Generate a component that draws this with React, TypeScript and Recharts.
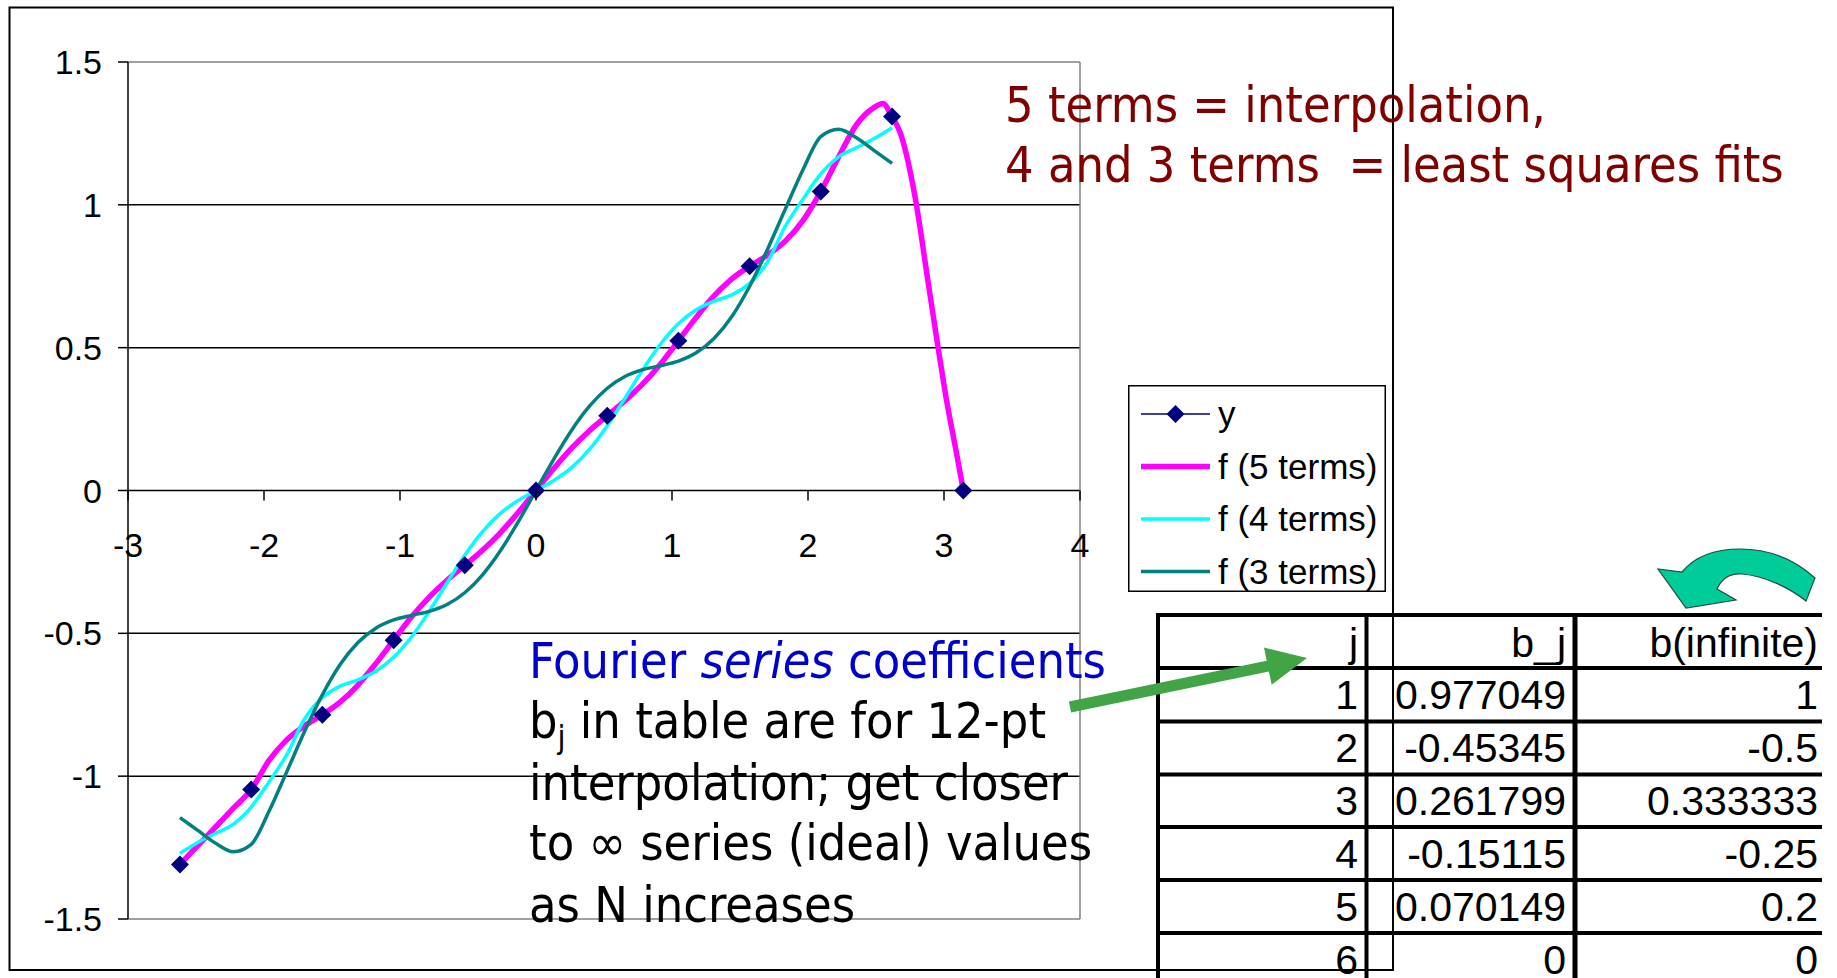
import React from 'react';
import { LineChart, Line, XAxis, YAxis, ReferenceLine, Legend } from 'recharts';

// x grid shared by the 4- and 3-term fits
const fitX = [
  -2.618, -2.487, -2.356, -2.225, -2.094, -1.963, -1.833, -1.702, -1.571, -1.44, -1.309,
  -1.178, -1.047, -0.916, -0.785, -0.654, -0.524, -0.393, -0.262, -0.131, 0, 0.131, 0.262,
  0.393, 0.524, 0.654, 0.785, 0.916, 1.047, 1.178, 1.309, 1.44, 1.571, 1.702, 1.833, 1.963,
  2.094, 2.225, 2.356, 2.487, 2.618,
];
const f4Y = [
  -1.27, -1.232, -1.2, -1.168, -1.108, -1.02, -0.925, -0.8, -0.725, -0.685, -0.663, -0.633,
  -0.584, -0.513, -0.423, -0.323, -0.227, -0.144, -0.08, -0.035, 0, 0.035, 0.08, 0.144, 0.227,
  0.323, 0.423, 0.513, 0.584, 0.633, 0.663, 0.685, 0.725, 0.8, 0.925, 1.02, 1.108, 1.168, 1.2,
  1.232, 1.27,
];
const f3Y = [
  -1.145, -1.19, -1.235, -1.265, -1.239, -1.123, -0.985, -0.844, -0.715, -0.609, -0.532,
  -0.482, -0.453, -0.437, -0.423, -0.399, -0.358, -0.295, -0.211, -0.11, 0, 0.11, 0.211, 0.295,
  0.358, 0.399, 0.423, 0.437, 0.453, 0.482, 0.532, 0.609, 0.715, 0.844, 0.985, 1.123, 1.239,
  1.265, 1.235, 1.19, 1.145,
];

// 5-term interpolant runs on to pi
const f5X = [
  -2.618, -2.487, -2.356, -2.225, -2.094, -1.963, -1.833, -1.702, -1.571, -1.44, -1.309,
  -1.178, -1.047, -0.916, -0.785, -0.654, -0.524, -0.393, -0.262, -0.131, 0, 0.131, 0.262,
  0.393, 0.524, 0.654, 0.785, 0.916, 1.047, 1.178, 1.309, 1.44, 1.571, 1.702, 1.833, 1.963,
  2.094, 2.225, 2.356, 2.487, 2.55, 2.618, 2.68, 2.79, 2.88, 2.95, 3.01, 3.1, 3.142,
];
const f5Y = [
  -1.309, -1.243, -1.178, -1.112, -1.047, -0.945, -0.873, -0.824, -0.785, -0.741, -0.681,
  -0.606, -0.524, -0.443, -0.373, -0.314, -0.262, -0.209, -0.148, -0.077, 0, 0.077, 0.148,
  0.209, 0.262, 0.314, 0.373, 0.443, 0.524, 0.606, 0.681, 0.741, 0.785, 0.824, 0.873, 0.945,
  1.047, 1.168, 1.28, 1.341, 1.355, 1.309, 1.25, 1.02, 0.74, 0.52, 0.34, 0.11, 0,
];

// the 12 sample points
const sampleX = [-2.618, -2.094, -1.571, -1.047, -0.524, 0, 0.524, 1.047, 1.571, 2.094, 2.618, 3.142];
const sampleY = [-1.309, -1.047, -0.785, -0.524, -0.262, 0, 0.262, 0.524, 0.785, 1.047, 1.309, 0];

const xTicks = [-3, -2, -1, 0, 1, 2, 3, 4];
const yTicks = [-1.5, -1, -0.5, 0, 0.5, 1, 1.5];
const gridValues = [-1, -0.5, 0.5, 1];

const tableHead = ['j', 'b_j', 'b(infinite)'];
const tableJ = ['1', '2', '3', '4', '5', '6'];
const tableBj = ['0.977049', '-0.45345', '0.261799', '-0.15115', '0.070149', '0'];
const tableBinf = ['1', '-0.5', '0.333333', '-0.25', '0.2', '0'];

const samples = sampleX.map((x, i) => ({ x, y: sampleY[i] }));
const f5Data = f5X.map((x, i) => ({ x, y: f5Y[i] }));
const f4Data = fitX.map((x, i) => ({ x, y: f4Y[i] }));
const f3Data = fitX.map((x, i) => ({ x, y: f3Y[i] }));

const ARIAL = "'Liberation Sans', Arial, sans-serif";
const TAHOMA = "'DejaVu Sans Condensed', 'DejaVu Sans', sans-serif";

const LEGEND_ORDER = ['y', 'f (5 terms)', 'f (4 terms)', 'f (3 terms)'];
const SERIES: Record<string, { color: string; width: number }> = {
  y: { color: '#000080', width: 1.5 },
  'f (5 terms)': { color: '#FF00FF', width: 5.5 },
  'f (4 terms)': { color: '#00FFFF', width: 3.5 },
  'f (3 terms)': { color: '#008080', width: 3.5 },
};

// chart layout
const W = 1400;
const H = 978;
const MARGIN = { top: 62, right: 320, bottom: 29, left: 10 };
const Y_AXIS_W = 118;
const X_AXIS_H = 30;
const PLOT_H = H - MARGIN.top - MARGIN.bottom - X_AXIS_H;
const ZERO_Y = MARGIN.top + PLOT_H / 2; // y = 0 sits mid-height of [-1.5, 1.5]

const diamondPath = (cx: number, cy: number, r: number) =>
  `M${cx},${cy - r}L${cx + r},${cy}L${cx},${cy + r}L${cx - r},${cy}Z`;

const Diamond = (props: any) => {
  const { cx, cy, index } = props;
  if (cx == null || cy == null) return <g key={`d-${index}`} />;
  return <path key={`d-${index}`} d={diamondPath(cx, cy, 9)} fill="#000080" />;
};

// x axis crosses at y = 0, so ticks are drawn there
const XTick = (props: any) => {
  const { x, payload } = props;
  return (
    <g>
      <line x1={x} x2={x} y1={ZERO_Y} y2={ZERO_Y + 10} stroke="#000" strokeWidth={1.5} />
      <text x={x} y={ZERO_Y + 66} textAnchor="middle" fontSize={34} fontFamily={ARIAL} fill="#000">
        {payload.value}
      </text>
    </g>
  );
};

const LegendBox = ({ payload }: any) => {
  const names = (payload || []).map((p: any) => p.value);
  const items = LEGEND_ORDER.filter((n) => names.includes(n));
  return (
    <svg width={258} height={207} style={{ display: 'block' }}>
      <rect x={0.75} y={0.75} width={256.5} height={205.5} fill="#fff" stroke="#000" strokeWidth={1.5} />
      {items.map((name, i) => {
        const cy = 29 + i * 52.5;
        const st = SERIES[name];
        return (
          <g key={name}>
            <line x1={13} x2={82} y1={cy} y2={cy} stroke={st.color} strokeWidth={st.width} />
            {name === 'y' && <path d={diamondPath(47.5, cy, 9)} fill={st.color} />}
            <text x={90} y={cy + 12} fontSize={35} fontFamily={ARIAL} fill="#000">
              {name}
            </text>
          </g>
        );
      })}
    </svg>
  );
};

// straight block arrow from tail to tip
const blockArrow = (tx: number, ty: number, hx: number, hy: number, shaft: number, headLen: number, headW: number) => {
  const len = Math.hypot(hx - tx, hy - ty);
  const dx = (hx - tx) / len;
  const dy = (hy - ty) / len;
  const nx = -dy;
  const ny = dx;
  const bx = hx - dx * headLen;
  const by = hy - dy * headLen;
  const pts = [
    [tx - nx * shaft, ty - ny * shaft],
    [bx - nx * shaft, by - ny * shaft],
    [bx - nx * headW, by - ny * headW],
    [hx, hy],
    [bx + nx * headW, by + ny * headW],
    [bx + nx * shaft, by + ny * shaft],
    [tx + nx * shaft, ty + ny * shaft],
  ];
  return pts.map((p) => p.map((v) => v.toFixed(1)).join(',')).join(' ');
};

const Overlay = () => {
  const rowLines = [615, 668, 721.5, 774.5, 827, 880, 933];
  const rowBase = [656.5, 708.5, 762, 815, 868, 921, 974];
  const colRight = [1358, 1566, 1818];
  const cols = [tableJ, tableBj, tableBinf];
  return (
    <svg
      width={1837}
      height={978}
      style={{ position: 'absolute', left: 0, top: 0, pointerEvents: 'none' }}
    >
      {/* chart frame */}
      <rect x={9.5} y={7.5} width={1383.5} height={962.5} fill="none" stroke="#000" strokeWidth={2} />

      {/* red note */}
      <g fontFamily={TAHOMA} fontSize={50} fill="#800000" style={{ fontStretch: 'condensed' }}>
        <text x={1005} y={122}>5 terms = interpolation,</text>
        <text x={1005} y={182}>{'4 and 3 terms\u00A0 = least squares fits'}</text>
      </g>

      {/* blue/black note */}
      <g fontFamily={TAHOMA} fontSize={50} fill="#000" style={{ fontStretch: 'condensed' }}>
        <text x={529} y={678} fill="#0000CC">
          Fourier <tspan fontStyle="italic">series</tspan> coefficients
        </text>
        <text x={529} y={738}>
          b<tspan dy={10} fontSize={32}>j</tspan>
          <tspan dy={-10}> in table are for 12-pt</tspan>
        </text>
        <text x={529} y={800}>interpolation; get closer</text>
        <text x={529} y={860}>to ∞ series (ideal) values</text>
        <text x={529} y={922}>as N increases</text>
      </g>

      {/* table */}
      <g stroke="#000">
        {rowLines.map((y) => (
          <line key={y} x1={1156} x2={1822} y1={y} y2={y} strokeWidth={4} />
        ))}
        <line x1={1158} x2={1158} y1={613} y2={978} strokeWidth={4} />
        <line x1={1366.5} x2={1366.5} y1={613} y2={978} strokeWidth={4} />
        <line x1={1575} x2={1575} y1={613} y2={978} strokeWidth={5} />
      </g>
      <g fontFamily={ARIAL} fontSize={41} fill="#000" textAnchor="end">
        {tableHead.map((h, c) => (
          <text key={h} x={colRight[c]} y={rowBase[0]}>
            {h}
          </text>
        ))}
        {cols.map((col, c) =>
          col.map((v, r) => (
            <text key={`${c}-${r}`} x={colRight[c]} y={rowBase[r + 1]}>
              {v}
            </text>
          ))
        )}
      </g>

      {/* green pointer */}
      <polygon points={blockArrow(1070, 707, 1307, 658, 5.5, 40, 19)} fill="#41A547" />

      {/* curved arrow */}
      <path
        d="M1815,578 C1795,560 1770,549 1740,549 C1715,549 1695,556 1682,572 L1658,569 L1686,608 L1736,600 L1717,589 C1722,578 1730,573 1742,574 C1765,576 1790,588 1806,601 Z"
        fill="#00CC99"
        stroke="#1d4d40"
        strokeWidth={1.2}
      />
    </svg>
  );
};

export default function App() {
  return (
    <div style={{ position: 'absolute', left: 0, top: 0, width: 1837, height: 978, background: '#fff', overflow: 'hidden' }}>
      <div style={{ position: 'absolute', left: 0, top: 0 }}>
        <LineChart width={W} height={H} margin={MARGIN}>
          <XAxis
            type="number"
            dataKey="x"
            domain={[-3, 4]}
            ticks={xTicks}
            height={X_AXIS_H}
            axisLine={false}
            tickLine={false}
            tick={XTick}
            interval={0}
          />
          <YAxis
            type="number"
            domain={[-1.5, 1.5]}
            ticks={yTicks}
            width={Y_AXIS_W}
            axisLine={{ stroke: '#000', strokeWidth: 1.5 }}
            tickLine={{ stroke: '#000', strokeWidth: 1.5 }}
            tickSize={10}
            tickMargin={16}
            tick={{ fontSize: 34, fill: '#000', fontFamily: ARIAL }}
            interval={0}
          />
          {gridValues.map((v) => (
            <ReferenceLine key={v} y={v} stroke="#000" strokeWidth={1.5} />
          ))}
          <ReferenceLine y={0} stroke="#000" strokeWidth={1.5} />
          <ReferenceLine y={1.5} stroke="#808080" strokeWidth={1.5} />
          <ReferenceLine y={-1.5} stroke="#808080" strokeWidth={1.5} />
          <ReferenceLine x={4} stroke="#808080" strokeWidth={1.5} />

          <Line data={f5Data} dataKey="y" name="f (5 terms)" type="monotone" stroke={SERIES['f (5 terms)'].color} strokeWidth={SERIES['f (5 terms)'].width} dot={false} activeDot={false} isAnimationActive={false} />
          <Line data={f4Data} dataKey="y" name="f (4 terms)" type="monotone" stroke={SERIES['f (4 terms)'].color} strokeWidth={SERIES['f (4 terms)'].width} dot={false} activeDot={false} isAnimationActive={false} />
          <Line data={f3Data} dataKey="y" name="f (3 terms)" type="monotone" stroke={SERIES['f (3 terms)'].color} strokeWidth={SERIES['f (3 terms)'].width} dot={false} activeDot={false} isAnimationActive={false} />
          {/* sample points: markers only, their joining line is hidden under the fits */}
          <Line data={samples} dataKey="y" name="y" type="linear" stroke="none" dot={Diamond} activeDot={false} isAnimationActive={false} />

          <Legend
            layout="vertical"
            align="center"
            verticalAlign="middle"
            wrapperStyle={{ left: 1128, top: 385, width: 258, height: 207 }}
            content={(props: any) => <LegendBox payload={props.payload} />}
          />
        </LineChart>
      </div>
      <Overlay />
    </div>
  );
}
